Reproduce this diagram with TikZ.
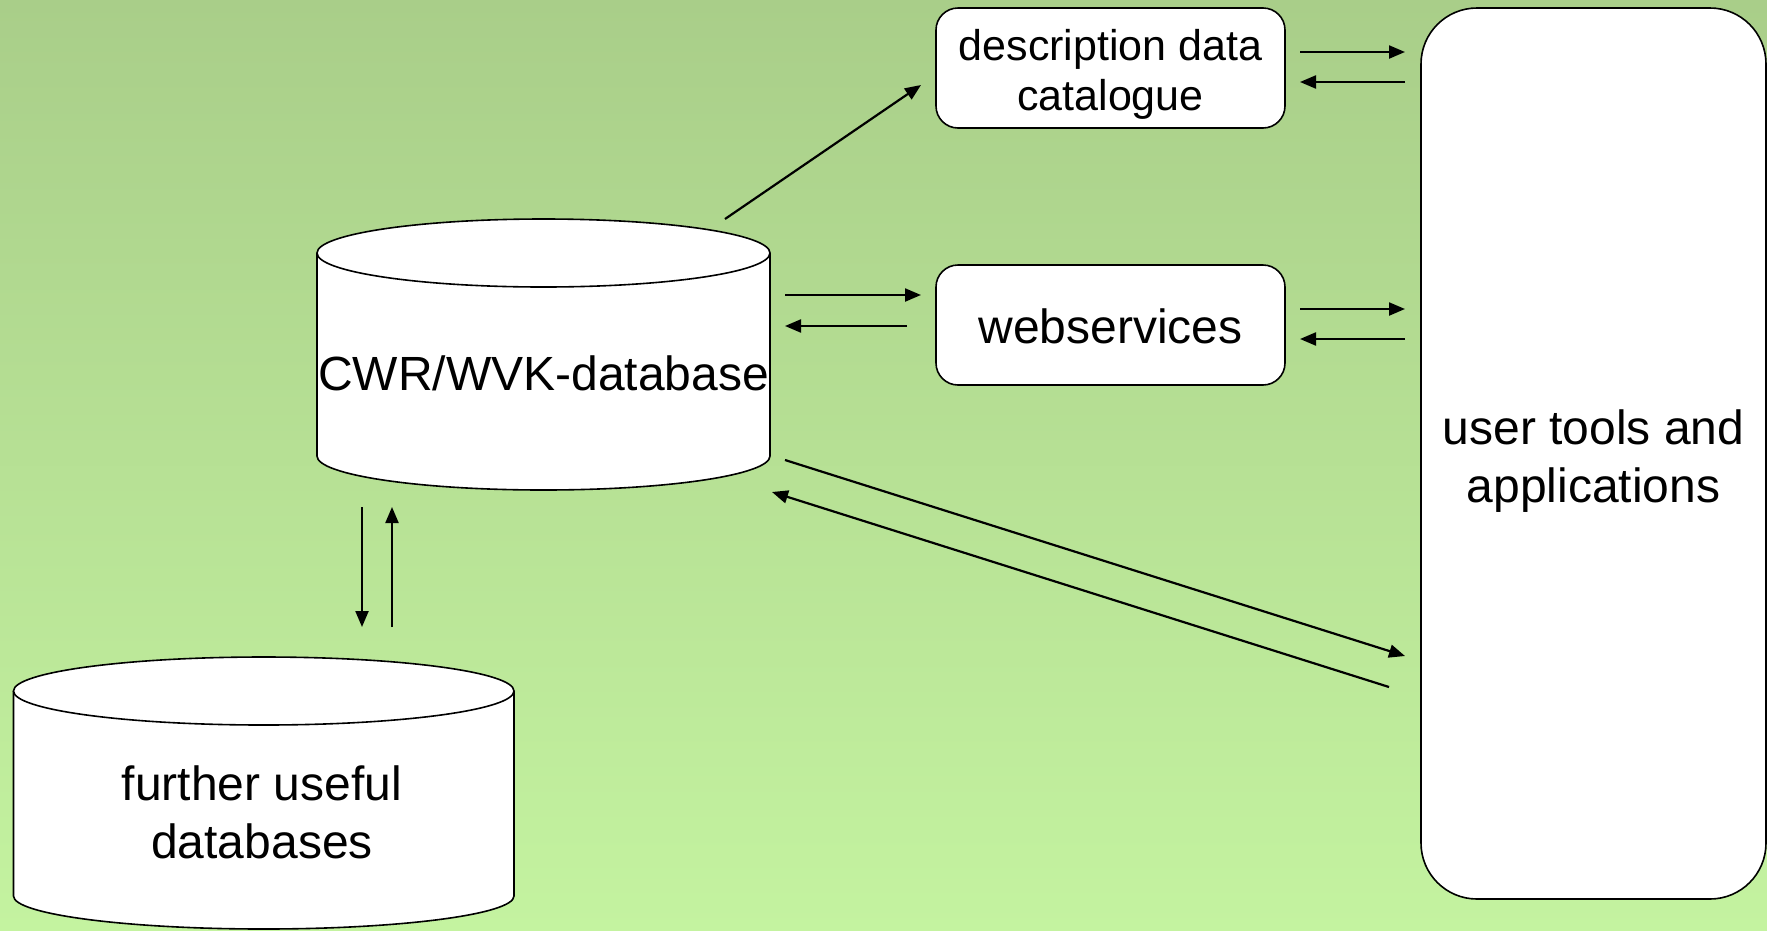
\documentclass[tikz,border=0pt]{standalone}
\usepackage{fontspec}
\setmainfont{Liberation Sans}
\usetikzlibrary{arrows.meta,calc}
\definecolor{bgtop}{RGB}{169,206,137}
\definecolor{bgbot}{RGB}{196,243,160}
\tikzset{
  box/.style={draw=black, line width=1.6pt, fill=white, rounded corners=22pt, inner sep=0pt},
  arr/.style={line width=2.2pt, -{Triangle[length=16pt,width=13pt]}},
  bigtext/.style={font=\fontsize{48}{58}\selectfont, align=center, inner sep=0pt},
  smalltext/.style={font=\fontsize{43}{50}\selectfont, align=center, inner sep=0pt},
  cylbody/.style={draw=none, inner sep=0pt, outer sep=0pt},
  cylline/.style={draw=black, line width=1.6pt}
}
\begin{document}
\begin{tikzpicture}[x=1pt,y=-1pt]
\useasboundingbox (0,0) rectangle (1767,930);
\shade[top color=bgtop, bottom color=bgbot] (0,0) rectangle (1767,930);

% CWR cylinder
\fill[white] (317,253) rectangle (770,456);
\fill[white] (543.5,456) ellipse [x radius=226.5, y radius=34];
\draw[cylline] (317,253) -- (317,456)
  .. controls (317,474.8) and (418.4,490) .. (543.5,490)
  .. controls (668.6,490) and (770,474.8) .. (770,456) -- (770,253);
\draw[cylline, fill=white] (543.5,253) ellipse [x radius=226.5, y radius=34];
\node[cylbody, minimum width=453pt, minimum height=271pt] (cwr) at (543.5,354.5) {};
\node[bigtext] (cwrtext) at (543.5,373) {CWR/WVK-database};

% further cylinder
\fill[white] (13.5,691) rectangle (514,896);
\fill[white] (263.75,896) ellipse [x radius=250.25, y radius=33];
\draw[cylline] (13.5,691) -- (13.5,896)
  .. controls (13.5,914.2) and (125.5,929) .. (263.75,929)
  .. controls (402,929) and (514,914.2) .. (514,896) -- (514,691);
\draw[cylline, fill=white] (263.75,691) ellipse [x radius=250.25, y radius=34];
\node[cylbody, minimum width=500.5pt, minimum height=272pt] (further) at (263.75,793) {};
\node[bigtext] (furthertext) at (262,812) {further useful\\databases};

% boxes
\node[box, outer sep=0pt, minimum width=349pt, minimum height=120pt] (desc) at (1110.5,68) {};
\node[smalltext] (desctext) at (1110.5,74) {description data\\catalogue};
\node[box, outer sep=0pt, minimum width=349pt, minimum height=120pt] (web) at (1110.5,325) {};
\node[bigtext] (webtext) at (1110.5,326) {webservices};
\node[box, outer sep=0pt, rounded corners=56pt, minimum width=345pt, minimum height=891pt] (user) at (1593.5,453.5) {};
\node[bigtext] (usertext) at (1593.5,461) {user tools and\\applications};

% arrows
\draw[arr] ($(cwr.north east)+(-45,0)$) -- ($(desc.west)+(-15,17)$);
\draw[arr] ($(cwr.east)+(15,-59.5)$) -- ($(web.west)+(-15,-30)$);
\draw[arr] ($(web.west)+(-29,1)$) -- ($(cwr.east)+(15,-28.5)$);

\draw[arr] ($(desc.east)+(15,-16)$) -- ($(user.north west)+(-16,44)$);
\draw[arr] ($(user.north west)+(-16,74)$) -- ($(desc.east)+(15,14)$);
\draw[arr] ($(web.east)+(15,-16)$) -- ($(user.north west)+(-16,301)$);
\draw[arr] ($(user.north west)+(-16,331)$) -- ($(web.east)+(15,14)$);

\draw[arr] ($(cwr.east)+(15,105.5)$) -- ($(user.north west)+(-16,648)$);
\draw[arr] ($(user.north west)+(-32,679)$) -- ($(cwr.south east)+(2,2)$);

\draw[arr] ($(cwr.south west)+(45,17)$) -- ($(further.north west)+(348.5,-30)$);
\draw[arr] ($(further.north west)+(378.5,-30)$) -- ($(cwr.south west)+(75,17)$);
\end{tikzpicture}
\end{document}
